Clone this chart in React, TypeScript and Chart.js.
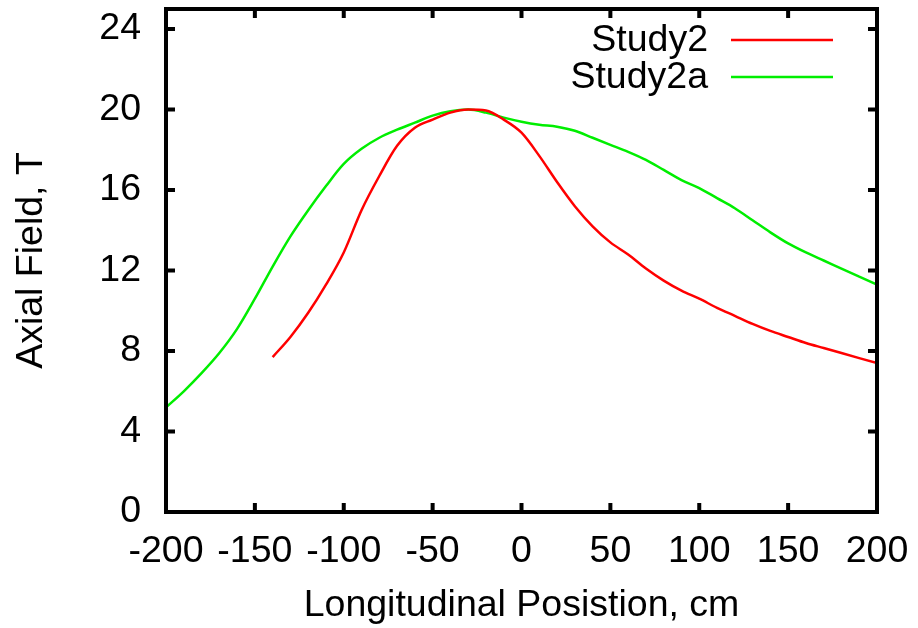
import React, { useEffect, useRef } from "react";
import { Chart, registerables } from "chart.js";

Chart.register(...registerables);

const study2X = [-140, -130, -120, -110, -100, -90, -80, -70, -60, -50, -40, -30, -20, -10, 0, 10, 20, 30, 40, 50, 60, 70, 80, 90, 100, 110, 120, 130, 140, 150, 160, 170, 180, 190, 200];
const study2Y = [7.7, 8.7, 9.9, 11.3, 12.9, 15.0, 16.7, 18.2, 19.1, 19.5, 19.85, 20.0, 19.95, 19.5, 18.85, 17.7, 16.4, 15.2, 14.2, 13.4, 12.8, 12.1, 11.5, 11.0, 10.6, 10.15, 9.75, 9.35, 9.0, 8.7, 8.4, 8.15, 7.9, 7.65, 7.4];

const study2aX = [-200, -190, -180, -170, -160, -150, -140, -130, -120, -110, -100, -90, -80, -70, -60, -50, -40, -30, -20, -10, 0, 10, 20, 30, 40, 50, 60, 70, 80, 90, 100, 110, 120, 130, 140, 150, 160, 170, 180, 190, 200];
const study2aY = [5.2, 6.0, 6.9, 7.9, 9.1, 10.6, 12.2, 13.7, 15.0, 16.2, 17.3, 18.05, 18.6, 19.0, 19.35, 19.7, 19.92, 20.0, 19.85, 19.6, 19.4, 19.25, 19.15, 18.95, 18.6, 18.25, 17.9, 17.5, 17.0, 16.5, 16.1, 15.6, 15.1, 14.5, 13.9, 13.35, 12.9, 12.5, 12.1, 11.7, 11.3];

const xTicks = [-200, -150, -100, -50, 0, 50, 100, 150, 200];
const yTicks = [0, 4, 8, 12, 16, 20, 24];

const seriesNames = ["Study2", "Study2a"];
const seriesColors = ["#ff0000", "#00ee00"];

const FONT = "'Liberation Sans', Arial, sans-serif";
const FS = 37.5;

const framePlugin = {
  id: "frame",
  afterDatasetsDraw(chart: any) {
    const { ctx, chartArea } = chart;
    const { left, right, top, bottom } = chartArea;
    const xs = chart.scales.x;
    const ys = chart.scales.y;
    ctx.save();
    ctx.strokeStyle = "#000";
    ctx.lineWidth = 4;
    ctx.lineCap = "butt";
    const tl = 9;
    ctx.beginPath();
    for (const v of xTicks) {
      const px = xs.getPixelForValue(v);
      ctx.moveTo(px, bottom);
      ctx.lineTo(px, bottom - tl);
      ctx.moveTo(px, top);
      ctx.lineTo(px, top + tl);
    }
    for (const v of yTicks) {
      const py = ys.getPixelForValue(v);
      ctx.moveTo(left, py);
      ctx.lineTo(left + tl, py);
      ctx.moveTo(right, py);
      ctx.lineTo(right - tl, py);
    }
    ctx.stroke();
    ctx.lineJoin = "miter";
    ctx.strokeRect(left, top, right - left, bottom - top);

    // legend (gnuplot style: text then sample)
    ctx.font = FS + "px " + FONT;
    ctx.textAlign = "right";
    ctx.textBaseline = "middle";
    const rows = [40, 77];
    chart.data.datasets.forEach((ds: any, i: number) => {
      const y = rows[i];
      ctx.fillStyle = "#000";
      ctx.fillText(ds.label, 708, y + 1);
      ctx.strokeStyle = ds.borderColor;
      ctx.lineWidth = 2.5;
      ctx.beginPath();
      ctx.moveTo(731, y);
      ctx.lineTo(833, y);
      ctx.stroke();
    });
    ctx.restore();
  },
};

export default function App() {
  const ref = useRef<HTMLCanvasElement | null>(null);
  useEffect(() => {
    if (!ref.current) return;
    const chart = new Chart(ref.current, {
      type: "line",
      data: {
        datasets: [
          {
            label: seriesNames[0],
            data: study2X.map((x, i) => ({ x, y: study2Y[i] })),
            borderColor: seriesColors[0],
            borderWidth: 2.5,
            pointRadius: 0,
            cubicInterpolationMode: "monotone",
            fill: false,
          },
          {
            label: seriesNames[1],
            data: study2aX.map((x, i) => ({ x, y: study2aY[i] })),
            borderColor: seriesColors[1],
            borderWidth: 2.5,
            pointRadius: 0,
            cubicInterpolationMode: "monotone",
            fill: false,
          },
        ],
      },
      options: {
        responsive: false,
        animation: false,
        layout: { padding: { top: 9, right: 41, left: 0, bottom: 0 } },
        plugins: { legend: { display: false }, tooltip: { enabled: false } },
        scales: {
          x: {
            type: "linear",
            min: -200,
            max: 200,
            grid: { display: false, drawTicks: false },
            border: { display: false },
            afterBuildTicks: (s: any) => {
              s.ticks = xTicks.map((v) => ({ value: v }));
            },
            afterFit: (s: any) => {
              s.height = 628 - 512;
              s.paddingLeft = 0;
              s.paddingRight = 0;
            },
            ticks: {
              color: "#000",
              font: { family: FONT, size: FS },
              padding: 17,
              maxRotation: 0,
              autoSkip: false,
            },
            title: {
              display: true,
              text: "Longitudinal Posistion, cm",
              color: "#000",
              font: { family: FONT, size: FS },
              padding: { top: 4, bottom: 0 },
            },
          },
          y: {
            type: "linear",
            min: 0,
            max: 25,
            grid: { display: false, drawTicks: false },
            border: { display: false },
            afterBuildTicks: (s: any) => {
              s.ticks = yTicks.map((v) => ({ value: v }));
            },
            afterFit: (s: any) => {
              s.width = 166;
              s.paddingTop = 0;
              s.paddingBottom = 0;
            },
            ticks: {
              color: "#000",
              font: { family: FONT, size: FS },
              padding: 25,
              autoSkip: false,
            },
            title: {
              display: true,
              text: "Axial Field, T",
              color: "#000",
              font: { family: FONT, size: FS },
              padding: { top: 9, bottom: 0 },
            },
          },
        },
      },
      plugins: [framePlugin],
    } as any);
    return () => chart.destroy();
  }, []);
  return (
    <div style={{ position: "fixed", left: 0, top: 0, width: 918, height: 628, background: "#fff" }}>
      <canvas ref={ref} width={918} height={628} style={{ display: "block" }} />
    </div>
  );
}
